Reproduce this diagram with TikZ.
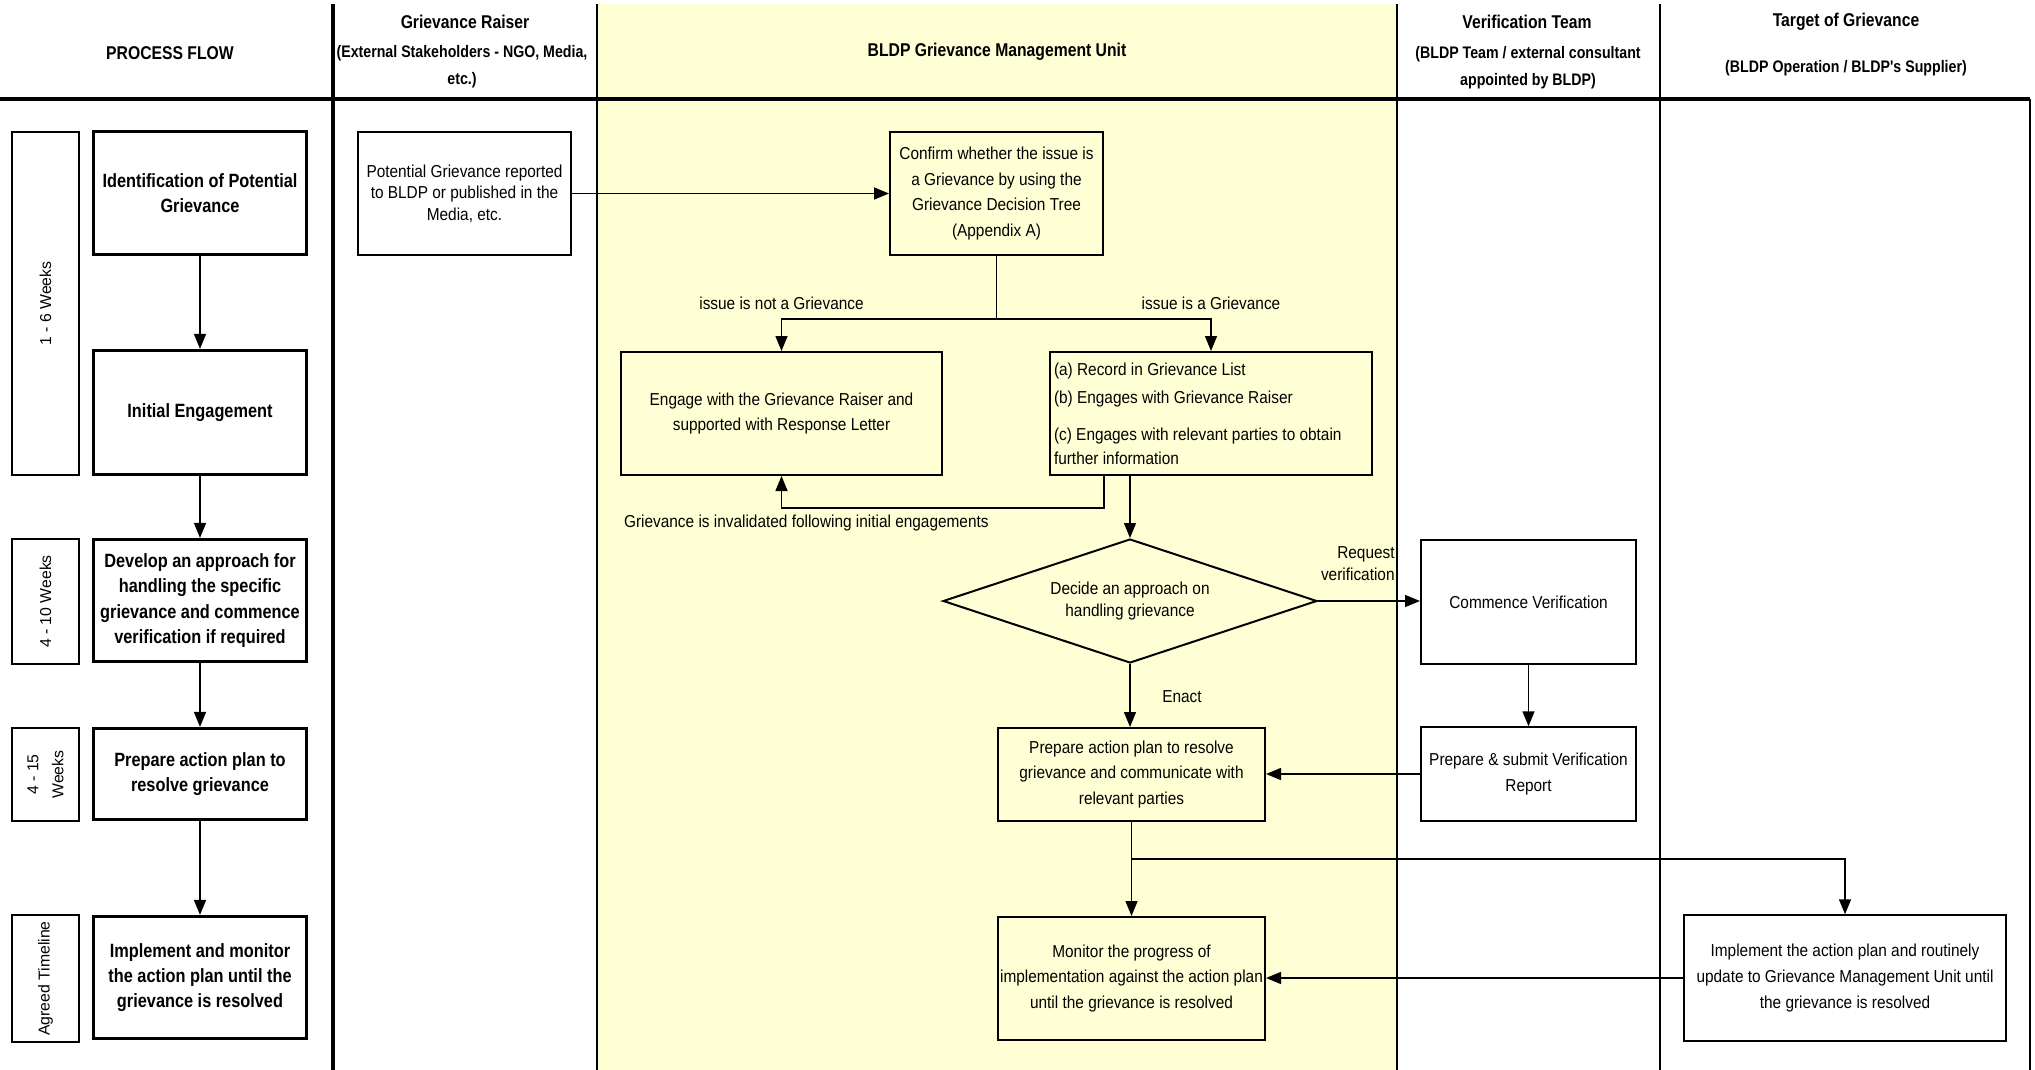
\documentclass[tikz,border=0pt]{standalone}
\usepackage{fontspec}
\setmainfont{Liberation Sans}[FakeStretch=0.89]
\newfontfamily\hdfont{Liberation Sans}[FakeStretch=0.85]
\newfontfamily\plainfont{Liberation Sans}
\usepackage{xcolor}
\usepackage{tikz}
\usetikzlibrary{calc, arrows.meta, positioning, shapes}

\definecolor{gmuyellow}{RGB}{255,255,213}

\begin{document}
\begin{tikzpicture}[x=0.5pt, y=-0.5pt, font=\fontsize{8.65}{12.8}\selectfont]
		\tikzstyle{lane} = [line width=1pt]
		\tikzstyle{mainlane} = [line width=2pt]
		\tikzstyle{title} = [font=\hdfont\bfseries\fontsize{9.25}{12}\selectfont]
		\tikzstyle{subtitle} = [align=center, font=\hdfont\bfseries\fontsize{8.35}{13.5}\selectfont]
		\tikzstyle{stage} = [draw=black, line width=1.6pt, rectangle, minimum width=106.5pt, align=center, font=\hdfont\bfseries\fontsize{9.6}{12.7}\selectfont]
		\tikzstyle{period} = [draw=black, line width=1pt, rectangle, rotate=90, minimum height=33.5pt, align=center, font=\plainfont\fontsize{7.9}{12.5}\selectfont]
		\tikzstyle{task} = [draw=black, line width=1pt, rectangle, align=center, inner sep=1pt]
		\tikzstyle{decision} = [draw=black, line width=1pt, diamond, aspect=3, minimum width=187pt, minimum height=62pt, align=center, inner sep=0pt, font=\fontsize{8.65}{11}\selectfont]
		\tikzstyle{arrow} = [line width=0.75pt, ->, >={Triangle[length=7.5pt, width=6pt]}]

		\useasboundingbox (0, 0) rectangle (2035, 1070);

		% swim lanes
		\fill[gmuyellow] (597, 4) rectangle (1397, 1070);
		\draw[mainlane] (0, 99) -- (2030, 99);
		\draw[mainlane] (333, 4) -- (333, 1070);
		\foreach \x in {597, 1397, 1660}
			\draw[lane] (\x, 4) -- (\x, 1070);
		\draw[lane] (2030, 99) -- (2030, 1070);

		\node[title]	at (170, 53)	(hflow)		{PROCESS FLOW};
		\node[title]	at (465, 22)	(hraiser)	{Grievance Raiser};
		\node[subtitle]	at (462, 67)	(hraisersub)	{(External Stakeholders - NGO, Media,\\etc.)};
		\node[title]	at (997, 52)	(hgmu)		{BLDP Grievance Management Unit};
		\node[title]	at (1527, 22)	(hverif)	{Verification Team};
		\node[subtitle]	at (1528, 68)	(hverifsub)	{(BLDP Team / external consultant\\appointed by BLDP)};
		\node[title]	at (1846, 22)	(htarget)	{Target of Grievance};
		\node[subtitle]	at (1846, 68)	(htargetsub)	{(BLDP Operation / BLDP's Supplier)};

		% timeline
		\node[period, minimum width=171.5pt]	at (45.5, 303.5)	(wk1)	{1 - 6 Weeks};
		\node[period, minimum width=62.5pt]	at (45.5, 601.5)	(wk2)	{4 - 10 Weeks};
		\node[period, minimum width=46.5pt]	at (45.5, 774.5)	(wk3)	{4 - 15\\Weeks};
		\node[period, minimum width=61.5pt]	at (45.5, 978.5)	(wk4)	{Agreed Timeline};

		% process flow
		\node[stage, minimum height=61.5pt]	at (200, 193)		(s1)	{Identification of Potential\\Grievance};
		\node[stage, minimum height=62pt]	at (200, 412.5)		(s2)	{Initial Engagement};
		\node[stage, minimum height=61pt]	at (200, 600.5)		(s3)	{Develop an approach for\\handling the specific\\grievance and commence\\verification if required};
		\node[stage, minimum height=45.5pt]	at (200, 774)		(s4)	{Prepare action plan to\\resolve grievance};
		\node[stage, minimum height=61pt]	at (200, 977.5)		(s5)	{Implement and monitor\\the action plan until the\\grievance is resolved};

		\draw [arrow] (s1) -- (s2);
		\draw [arrow] (s2) -- (s3);
		\draw [arrow] (s3) -- (s4);
		\draw [arrow] (s4) -- (s5);

		% grievance handling
		\node[task, minimum width=106.5pt, minimum height=61.5pt, font=\fontsize{8.65}{10.75}\selectfont]	at (464.5, 193.5)	(raised)	{Potential Grievance reported\\to BLDP or published in the\\Media, etc.};
		\node[task, minimum width=106.5pt, minimum height=61.5pt]	at (996.5, 193.5)	(confirm)	{Confirm whether the issue is\\a Grievance by using the\\Grievance Decision Tree\\(Appendix A)};
		\node[task, minimum width=160.5pt, minimum height=61.5pt]	at (781.5, 413.5)	(engage)	{Engage with the Grievance Raiser and\\supported with Response Letter};
		\node[task, minimum width=161pt, minimum height=61.5pt, inner sep=2pt, text width=157pt, align=flush left, font=\fontsize{8.65}{12}\selectfont]	at (1211, 413.5)	(record)	{(a) Record in Grievance List\\[2pt](b) Engages with Grievance Raiser\\[6.5pt](c) Engages with relevant parties to obtain\\further information};
		\node[decision]	at (1130, 601)	(decide)	{Decide an approach on\\handling grievance};
		\node[task, minimum width=133.5pt, minimum height=46.5pt]	at (1131.5, 774.5)	(plan)		{Prepare action plan to resolve\\grievance and communicate with\\relevant parties};
		\node[task, minimum width=133.5pt, minimum height=61.5pt]	at (1131.5, 978.5)	(monitor)	{Monitor the progress of\\implementation against the action plan\\until the grievance is resolved};
		\node[task, minimum width=107.5pt, minimum height=62pt]	at (1528.5, 602)	(verify)	{Commence Verification};
		\node[task, minimum width=107.5pt, minimum height=46.75pt]	at (1528.5, 774)	(submit)	{Prepare \& submit Verification\\Report};
		\node[task, minimum width=161.25pt, minimum height=62.75pt]	at (1845, 978)	(implement)	{Implement the action plan and routinely\\update to Grievance Management Unit until\\the grievance is resolved};

		\node	at (781.5, 303)	(notlbl)	{issue is not a Grievance};
		\node	at (1211, 303)	(islbl)		{issue is a Grievance};
		\node[anchor=west]	at (617, 523)	(invlbl)	{Grievance is invalidated following initial engagements};
		\node[anchor=east, align=right, inner sep=1pt, font=\fontsize{8.65}{11}\selectfont]	at (1397, 564)	(reqlbl)	{Request\\verification};
		\node	at (1182, 697)	(enactlbl)	{Enact};

		\coordinate (split) at (996.5, 319);
		\coordinate (back) at (1104, 508);
		\coordinate (fork) at (1131.5, 859);

		\draw [arrow] (raised) -- (confirm);
		\draw [arrow] (confirm.south) -- (split) -| (engage.north);
		\draw [arrow] (split) -| (record.north);
		\draw [arrow] (record.south west -| back) -- (back) -| (engage.south);
		\draw [arrow] (record.south -| decide.north) -- (decide.north);
		\draw [arrow] (decide.east) -- (decide.east -| verify.west);
		\draw [arrow] (decide.south) -- (plan.north -| decide.south);
		\draw [arrow] (verify) -- (submit);
		\draw [arrow] (submit.west) -- (submit.west -| plan.east);
		\draw [arrow] (plan) -- (monitor);
		\draw [arrow] (fork) -| (implement.north);
		\draw [arrow] (implement.west) -- (implement.west -| monitor.east);
	\end{tikzpicture}
\end{document}
